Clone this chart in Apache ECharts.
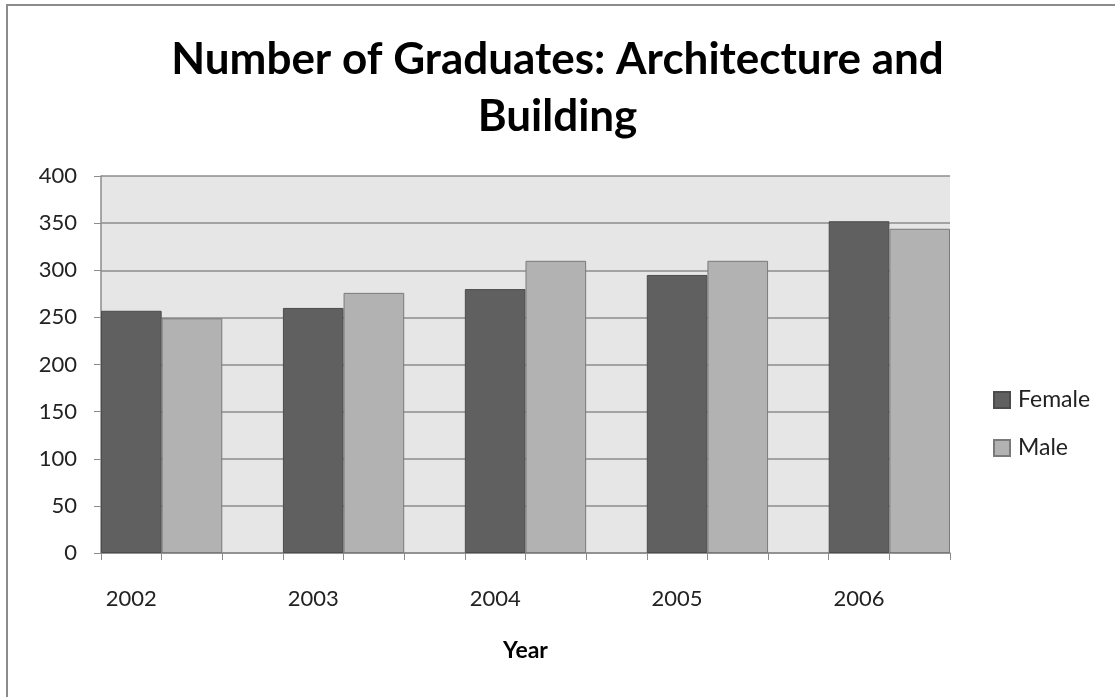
<!DOCTYPE html>
<html>
<head>
<meta charset="utf-8">
<script src="https://cdn.jsdelivr.net/npm/echarts@6/dist/echarts.min.js"></script>
<style>
  html, body { margin: 0; padding: 0; background: #fff; }
  #chart { width: 1115px; height: 697px; }
</style>
</head>
<body>
<div id="chart"></div>
<script>
// Graduates per year, by sex
const years = ['2002', '2003', '2004', '2005', '2006'];
const female = [257, 260, 280, 295, 352];
const male = [249, 276, 310, 310, 344];
const yTicks = [0, 50, 100, 150, 200, 250, 300, 350, 400];

// The category axis has one slot per bar plus an empty spacer slot between years,
// so every bar edge gets its own tick mark.
const slots = [];
const femaleSlots = [];
const maleSlots = [];
years.forEach((y, i) => {
  slots.push('F' + y); femaleSlots.push(female[i]); maleSlots.push('-');
  slots.push('M' + y); femaleSlots.push('-'); maleSlots.push(male[i]);
  if (i < years.length - 1) {
    slots.push('G' + y); femaleSlots.push('-'); maleSlots.push('-');
  }
});

const font = 'Lato, "Open Sans", sans-serif';
const chart = echarts.init(document.getElementById('chart'));
chart.setOption({
  animation: false,
  title: {
    text: 'Number of Graduates: Architecture and\nBuilding',
    left: 'center',
    top: 26,
    textStyle: { fontFamily: font, fontSize: 44, fontWeight: 'bold', color: '#000', lineHeight: 57 }
  },
  graphic: [{
    type: 'rect',
    shape: { x: 7, y: 5, width: 1200, height: 800 },
    style: { fill: 'none', stroke: '#8c8c8c', lineWidth: 2 },
    silent: true
  }],
  legend: {
    orient: 'vertical',
    left: 988,
    top: 383,
    itemWidth: 16,
    itemHeight: 16,
    itemGap: 24,
    icon: 'rect',
    textStyle: { fontFamily: font, fontSize: 23, color: '#222', lineHeight: 24, padding: [0, 0, 0, 3] },
    data: ['Female', 'Male']
  },
  grid: {
    left: 101, right: 165, top: 176, bottom: 144,
    show: true, backgroundColor: '#e6e6e6', borderWidth: 0
  },
  xAxis: {
    type: 'category',
    data: slots,
    boundaryGap: true,
    name: 'Year',
    nameLocation: 'middle',
    nameGap: 86,
    nameTextStyle: { fontFamily: font, fontSize: 23, fontWeight: 'bold', color: '#000' },
    axisLine: { lineStyle: { color: '#8c8c8c', width: 1.5 } },
    axisTick: { show: true, interval: 0, length: 7, lineStyle: { color: '#8c8c8c', width: 1 } },
    axisLabel: {
      interval: 0, margin: 35,
      fontFamily: font, fontSize: 22, color: '#222',
      formatter: v => v.charAt(0) === 'F' ? v.slice(1) : ''
    },
    splitLine: { show: false }
  },
  yAxis: {
    type: 'value',
    min: yTicks[0],
    max: yTicks[yTicks.length - 1],
    interval: yTicks[1] - yTicks[0],
    axisLine: { show: true, lineStyle: { color: '#8c8c8c', width: 1.5 } },
    axisTick: { show: true, length: 7, lineStyle: { color: '#8c8c8c', width: 1 } },
    axisLabel: { margin: 24, fontFamily: font, fontSize: 22, color: '#222' },
    splitLine: { show: true, lineStyle: { color: '#8c8c8c', width: 1.5 } }
  },
  series: [
    {
      name: 'Female', type: 'bar', data: femaleSlots,
      barWidth: '100%', barGap: '-100%',
      itemStyle: { color: '#606060', borderColor: '#4c4c4c', borderWidth: 1 }
    },
    {
      name: 'Male', type: 'bar', data: maleSlots,
      barWidth: '100%', barGap: '-100%',
      itemStyle: { color: '#b2b2b2', borderColor: '#7a7a7a', borderWidth: 1 }
    }
  ]
});
</script>
</body>
</html>
